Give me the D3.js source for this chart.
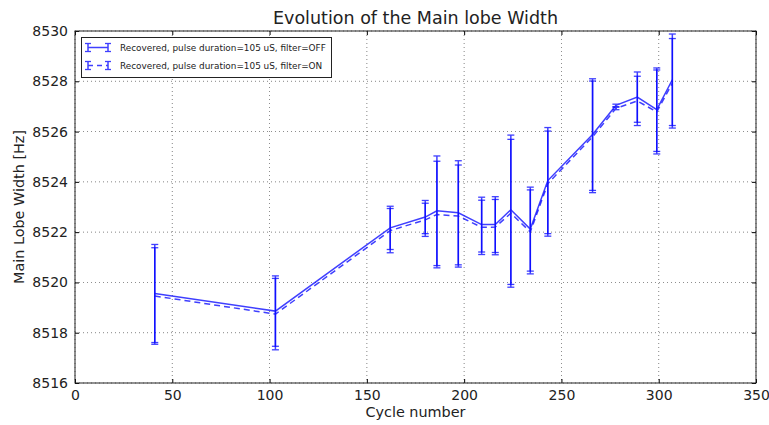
<!DOCTYPE html>
<html>
<head>
<meta charset="utf-8">
<script src="https://cdn.jsdelivr.net/npm/d3@7"></script>
<style>
  html, body { margin: 0; padding: 0; background: #fff; }
  svg { display: block; font-family: "DejaVu Sans", sans-serif; }
</style>
</head>
<body>
<svg id="chart" width="769" height="425"></svg>
<script>
// ---- data ----
const cycles = [41, 103, 162, 180, 186, 197, 209, 216, 224, 234, 243, 266, 278, 289, 299, 307];
const offValues = [8519.56, 8518.86, 8522.17, 8522.60, 8522.85, 8522.77, 8522.30, 8522.30, 8522.89, 8522.12, 8524.05, 8525.88, 8527.04, 8527.37, 8526.87, 8528.06];
const offErrors = [1.95, 1.40, 0.86, 0.66, 2.18, 2.07, 1.09, 1.11, 2.97, 1.67, 2.11, 2.22, 0.05, 1.00, 1.66, 1.82];
const onValues = [8519.46, 8518.74, 8522.06, 8522.49, 8522.70, 8522.64, 8522.19, 8522.20, 8522.75, 8522.01, 8523.93, 8525.79, 8526.92, 8527.22, 8526.78, 8527.92];
const onErrors = [1.92, 1.42, 0.88, 0.66, 2.12, 2.03, 1.08, 1.10, 2.94, 1.67, 2.09, 2.22, 0.05, 0.98, 1.67, 1.78];
const xTicks = [0, 50, 100, 150, 200, 250, 300, 350];
const yTicks = [8516, 8518, 8520, 8522, 8524, 8526, 8528, 8530];
const seriesNames = ["Recovered, pulse duration=105 uS, filter=OFF", "Recovered, pulse duration=105 uS, filter=ON"];
const chartTitle = "Evolution of the Main lobe Width";
const xLabel = "Cycle number";
const yLabel = "Main Lobe Width [Hz]";

// ---- layout ----
const L = 75, R = 756, T = 31, B = 383;
const svg = d3.select("#chart");
const x = d3.scaleLinear().domain([0, 350]).range([L, R]);
const y = d3.scaleLinear().domain([8516, 8530]).range([B, T]);
const blue = "#0000ff";
const lineOpacity = 0.75;
const txt = "#222";

// grid
const grid = svg.append("g");
xTicks.forEach(t => grid.append("line")
  .attr("x1", x(t)).attr("x2", x(t)).attr("y1", T).attr("y2", B)
  .attr("stroke", "#000").attr("stroke-width", 0.6).attr("stroke-dasharray", "1,3").attr("opacity", 0.8));
yTicks.forEach(t => grid.append("line")
  .attr("x1", L).attr("x2", R).attr("y1", y(t)).attr("y2", y(t))
  .attr("stroke", "#000").attr("stroke-width", 0.6).attr("stroke-dasharray", "1,3").attr("opacity", 0.8));

// axes with inward ticks
const axB = svg.append("g").attr("transform", `translate(0,${B})`)
  .call(d3.axisBottom(x).tickValues(xTicks).tickSizeInner(-4).tickSizeOuter(0).tickPadding(7));
const axT = svg.append("g").attr("transform", `translate(0,${T})`)
  .call(d3.axisTop(x).tickValues(xTicks).tickSizeInner(-4).tickSizeOuter(0).tickFormat(""));
const axL = svg.append("g").attr("transform", `translate(${L},0)`)
  .call(d3.axisLeft(y).tickValues(yTicks).tickSizeInner(-4).tickSizeOuter(0).tickPadding(7).tickFormat(d3.format("d")));
const axR = svg.append("g").attr("transform", `translate(${R},0)`)
  .call(d3.axisRight(y).tickValues(yTicks).tickSizeInner(-4).tickSizeOuter(0).tickFormat(""));
[axB, axT, axL, axR].forEach(a => {
  a.select(".domain").remove();
  a.selectAll("line").attr("stroke", "#000");
  a.selectAll("text").attr("font-family", "DejaVu Sans").attr("font-size", 14).attr("fill", txt);
});

// frame
svg.append("rect").attr("x", L).attr("y", T).attr("width", R - L).attr("height", B - T)
  .attr("fill", "none").attr("stroke", "#222").attr("stroke-width", 1);

// series
function drawSeries(vals, errs, dash) {
  const g = svg.append("g").attr("opacity", lineOpacity);
  const line = d3.line().x((d, i) => x(cycles[i])).y(d => y(d));
  g.append("path").datum(vals).attr("d", line)
    .attr("fill", "none").attr("stroke", blue).attr("stroke-width", 1.5)
    .attr("stroke-dasharray", dash ? "6,4" : null);
  vals.forEach((v, i) => {
    const cx = x(cycles[i]);
    g.append("line").attr("x1", cx).attr("x2", cx).attr("y1", y(v - errs[i])).attr("y2", y(v + errs[i]))
      .attr("stroke", blue).attr("stroke-width", 1.5);
    [v - errs[i], v + errs[i]].forEach(e => g.append("line")
      .attr("x1", cx - 3.5).attr("x2", cx + 3.5).attr("y1", y(e)).attr("y2", y(e))
      .attr("stroke", blue).attr("stroke-width", 1.3));
  });
}
drawSeries(offValues, offErrors, false);
drawSeries(onValues, onErrors, true);

// title & labels
svg.append("text").attr("x", (L + R) / 2).attr("y", 24).attr("text-anchor", "middle")
  .attr("font-size", 17.5).attr("fill", txt).text(chartTitle);
svg.append("text").attr("x", (L + R) / 2).attr("y", 417).attr("text-anchor", "middle")
  .attr("font-size", 14.4).attr("fill", txt).text(xLabel);
svg.append("text").attr("transform", `translate(24,${(T + B) / 2}) rotate(-90)`).attr("text-anchor", "middle")
  .attr("font-size", 14.4).attr("fill", txt).text(yLabel);

// legend
const lg = svg.append("g");
lg.append("rect").attr("x", 81.5).attr("y", 37.5).attr("width", 250).attr("height", 40)
  .attr("fill", "#fff").attr("stroke", "#222").attr("stroke-width", 1);
[0, 1].forEach(k => {
  const ly = 47.5 + k * 18;
  const hg = lg.append("g").attr("opacity", lineOpacity);
  hg.append("line").attr("x1", 88).attr("x2", 108).attr("y1", ly).attr("y2", ly)
    .attr("stroke", blue).attr("stroke-width", 1.5).attr("stroke-dasharray", k ? "5,4" : null);
  [88, 108].forEach(hx => {
    hg.append("line").attr("x1", hx).attr("x2", hx).attr("y1", ly - 4).attr("y2", ly + 4)
      .attr("stroke", blue).attr("stroke-width", 1.5);
    [ly - 4, ly + 4].forEach(cy => hg.append("line").attr("x1", hx - 3).attr("x2", hx + 3)
      .attr("y1", cy).attr("y2", cy).attr("stroke", blue).attr("stroke-width", 1.3));
  });
  lg.append("text").attr("x", 120).attr("y", ly + 3.3).attr("font-size", 8.9).attr("fill", txt).text(seriesNames[k]);
});
</script>
</body>
</html>
